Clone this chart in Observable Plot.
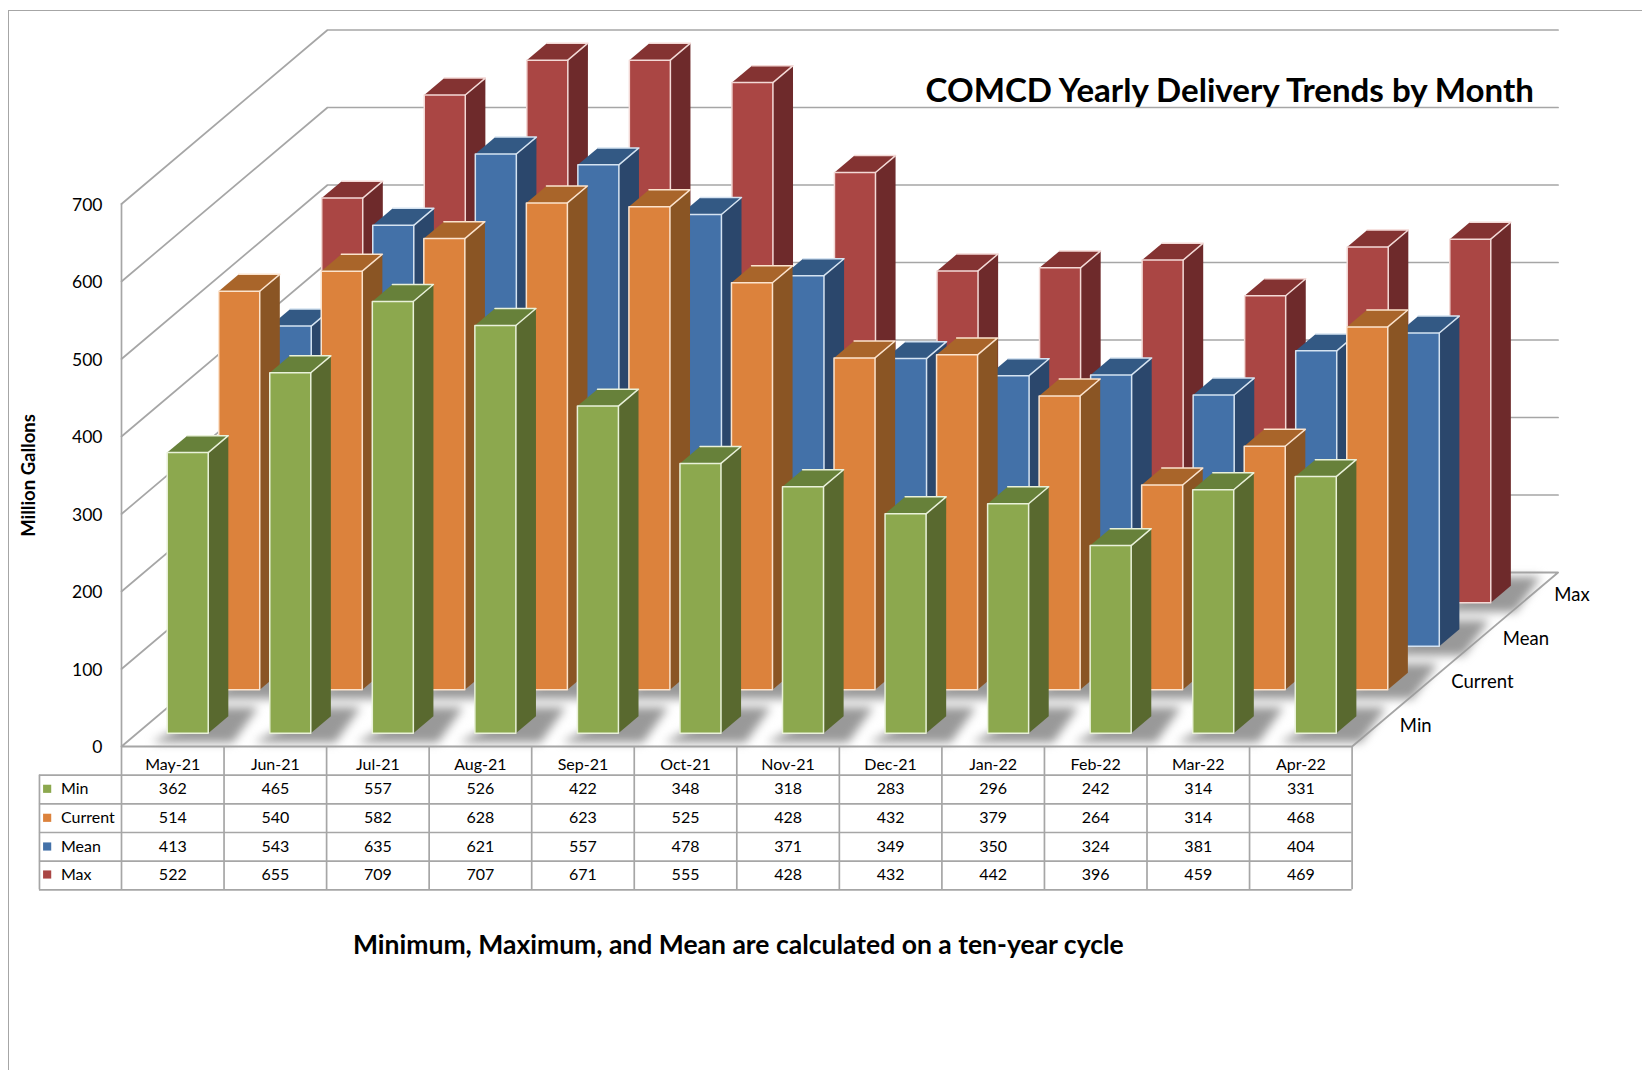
<!DOCTYPE html>
<html>
<head>
<meta charset="utf-8">
<script src="https://cdn.jsdelivr.net/npm/d3@7"></script>
<script src="https://cdn.jsdelivr.net/npm/@observablehq/plot@0.6"></script>
<style>
  html,body{margin:0;padding:0;background:#fff;overflow:hidden;}
  #page{position:relative;width:1642px;height:1070px;overflow:hidden;font-family:Lato,sans-serif;color:#000;}
  #page svg{display:block;}
  #frame{position:absolute;left:8px;top:10px;right:-4px;bottom:-4px;border-left:1.5px solid #a6a6a6;border-top:1.5px solid #a6a6a6;pointer-events:none;}
  #title{position:absolute;right:108px;top:67px;margin:0;font-size:33.1px;line-height:44px;font-weight:700;white-space:nowrap;}
  #note{position:absolute;left:353px;top:927px;margin:0;font-size:26.5px;line-height:34px;font-weight:700;white-space:nowrap;}
</style>
</head>
<body>
<div id="page">
  <div id="frame"></div>
  <div id="chart"></div>
  <h1 id="title">COMCD Yearly Delivery Trends by Month</h1>
  <p id="note">Minimum, Maximum, and Mean are calculated on a ten-year cycle</p>
</div>
<script>
const months = ["May-21","Jun-21","Jul-21","Aug-21","Sep-21","Oct-21","Nov-21","Dec-21","Jan-22","Feb-22","Mar-22","Apr-22"];
const seriesNames = ["Min","Current","Mean","Max"];
const minValues     = [362,465,557,526,422,348,318,283,296,242,314,331];
const currentValues = [514,540,582,628,623,525,428,432,379,264,314,468];
const meanValues    = [413,543,635,621,557,478,371,349,350,324,381,404];
const maxValues     = [522,655,709,707,671,555,428,432,442,396,459,469];
const yTicks = [0,100,200,300,400,500,600,700];

const allSeries = [minValues,currentValues,meanValues,maxValues];
const front = ["#8ca84e","#dc823c","#4371a8","#aa4644"];
const side  = ["#59692f","#8a5524","#2b476c","#6e2a2b"];
const topc  = ["#67813a","#a9652a","#335984","#843332"];
const edge  = ["#e9f1d9","#fbe3cd","#d5e3f1","#f3d9d6"];
const grid = "#a6a6a6";

// oblique 3D projection expressed in the units of the plot's x and y scales
const pxPerCat = 102.55, pxPerVal = 0.775;
const DX = 51.5/pxPerCat, DY = 43.5/pxPerVal;
const P = (u,v,d) => ({x:u+d*DX, y:v+d*DY});
const below = px => -px/pxPerVal;         // distance under the floor line
const rowTop = [28.7,57.3,86,114.7,143.3]; // table lines under the floor
const rowMid = [18,42.3,71.3,100,128];
const tableLeft = -0.80;
const axisMax = 700;                      // the value axis stops here, so taller bars are cut off

const barL=0.28, barW=0.40, d0=0.33, dd=0.39;

// wall gridlines
const gridPts=[];
yTicks.forEach(v=>{ if(v>0){ [[0,v,0],[0,v,4],[12,v,4]].forEach(p=>gridPts.push({...P(...p),id:v})); } });

const floorPts=[[0,0,0],[12,0,0],[12,0,4],[0,0,4],[0,0,0]].map(p=>P(...p));

// shadows and faces
const shadows=[], faces=[];
let id=0;
const poly=(arr,pts,fill,stroke)=>{ id++; pts.forEach(p=>arr.push({...P(...p),id,fill,stroke})); };
for(let s=3;s>=0;s--){
  allSeries[s].forEach((val,i)=>{
    const v=Math.min(val,axisMax);
    const a=i+barL,b=a+barW,f=s+d0,k=f+dd;
    poly(shadows,[[a-0.03,0,f-0.24],[b+0.36,0,f-0.24],[b+0.2,0,k+0.18],[a+0.2,0,k+0.18]],"#999999","none");
    poly(faces,[[b,0,f],[b,0,k],[b,v,k],[b,v,f],[b,0,f]],side[s],"none");
    poly(faces,[[a,v,f],[b,v,f],[b,v,k],[a,v,k],[a,v,f]],topc[s],"none");
    poly(faces,[[a,0,f],[b,0,f],[b,v,f],[a,v,f],[a,0,f]],front[s],edge[s]);
    poly(faces,[[b,v,f],[b,v,k],[a,v,k]],"none",edge[s]);
  });
}

const font = "Lato";
const rows = seriesNames.map((n,r)=>({n,r,vals:allSeries[r]}));
const cells = rows.flatMap(o=>o.vals.map((v,i)=>({v,i,r:o.r})));

const chart = Plot.plot({
  width:1642, height:1070,
  marginLeft:121, marginRight:0, marginTop:0, marginBottom:324,
  style:{background:"transparent",fontFamily:font,color:"#000"},
  x:{domain:[0,1521/pxPerCat],axis:null},
  y:{domain:[0,746/pxPerVal]},
  color:{type:"identity"},
  marks:[
    Plot.line(gridPts,{x:"x",y:"y",z:"id",stroke:grid,strokeWidth:1.7}),
    Plot.ruleX([0],{y1:0,y2:700,stroke:grid,strokeWidth:1.7}),
    Plot.line(floorPts,{x:"x",y:"y",fill:"#fff",stroke:grid,strokeWidth:1.8}),
    Plot.line(shadows,{x:"x",y:"y",z:"id",fill:"fill",stroke:"stroke",imageFilter:"blur(5px)"}),
    Plot.line(faces,{x:"x",y:"y",z:"id",fill:"fill",stroke:"stroke",strokeWidth:1.5,dy:1}),
    Plot.axisY(yTicks,{anchor:"left",label:null,tickSize:0,tickPadding:19,fontSize:17.5,dy:1,fill:"#000",fontFamily:font}),
    // depth axis labels
    Plot.text(seriesNames,{x:(d,i)=>P(12,0,i+0.5).x,y:(d,i)=>P(12,0,i+0.5).y,text:d=>d,dx:22,dy:1,textAnchor:"start",fontSize:18.5,fill:"#000"}),
    Plot.text(["Million Gallons"],{x:-0.905,y:below(-271),rotate:-90,fontSize:18.5,fontWeight:700,fill:"#000"}),
    // data table
    Plot.ruleX(d3.range(13),{y1:0,y2:below(rowTop[4]),stroke:grid,strokeWidth:1.7}),
    Plot.ruleX([tableLeft],{y1:below(rowTop[0]),y2:below(rowTop[4]),stroke:grid,strokeWidth:1.7}),
    Plot.ruleY(rowTop.map(below),{x1:tableLeft,x2:12,stroke:grid,strokeWidth:1.7}),
    Plot.text(months,{x:(d,i)=>i+0.5,y:below(rowMid[0]),text:d=>d,fontSize:16,fill:"#000"}),
    Plot.text(cells,{x:d=>d.i+0.5,y:d=>below(rowMid[d.r+1]),text:d=>String(d.v),fontSize:16,fill:"#000"}),
    Plot.dot(rows,{x:tableLeft+0.075,y:d=>below(rowMid[d.r+1]),symbol:"square",r:4.6,fill:d=>front[d.r]}),
    Plot.text(rows,{x:tableLeft+0.21,y:d=>below(rowMid[d.r+1]),text:"n",textAnchor:"start",fontSize:16,fill:"#000"})
  ]
});
document.getElementById("chart").appendChild(chart);
</script>
</body>
</html>
